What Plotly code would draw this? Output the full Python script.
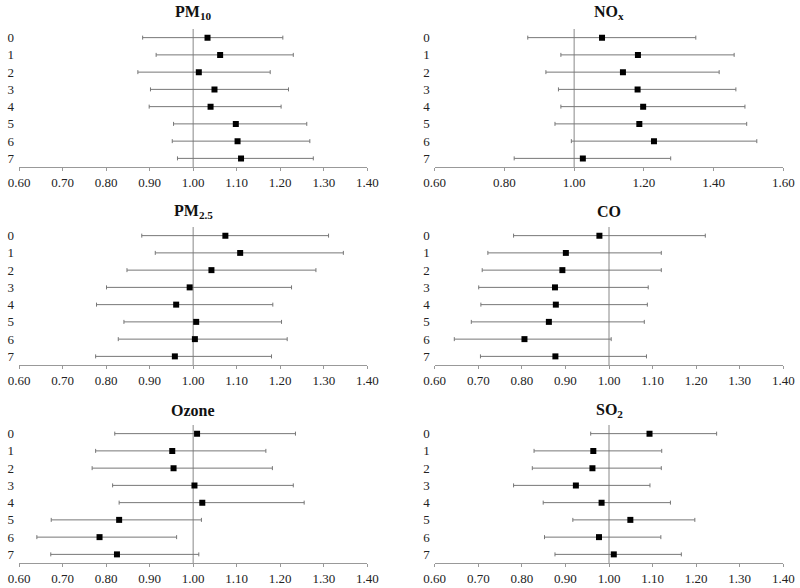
import plotly.graph_objects as go

lags = [0, 1, 2, 3, 4, 5, 6, 7]

pm10_est = [1.033, 1.062, 1.013, 1.049, 1.040, 1.098, 1.102, 1.110]
pm10_lo = [0.884, 0.915, 0.873, 0.902, 0.899, 0.955, 0.952, 0.964]
pm10_hi = [1.206, 1.230, 1.177, 1.219, 1.202, 1.261, 1.268, 1.276]

nox_est = [1.080, 1.183, 1.140, 1.182, 1.198, 1.187, 1.229, 1.025]
nox_lo = [0.867, 0.962, 0.919, 0.955, 0.962, 0.945, 0.992, 0.828]
nox_hi = [1.349, 1.459, 1.416, 1.464, 1.490, 1.495, 1.524, 1.277]

pm25_est = [1.074, 1.108, 1.042, 0.992, 0.961, 1.007, 1.004, 0.958]
pm25_lo = [0.882, 0.913, 0.848, 0.801, 0.778, 0.841, 0.828, 0.776]
pm25_hi = [1.311, 1.345, 1.282, 1.226, 1.183, 1.203, 1.216, 1.180]

co_est = [0.978, 0.901, 0.893, 0.876, 0.878, 0.862, 0.806, 0.877]
co_lo = [0.781, 0.722, 0.709, 0.701, 0.706, 0.684, 0.645, 0.705]
co_hi = [1.221, 1.120, 1.120, 1.090, 1.088, 1.081, 1.005, 1.086]

ozone_est = [1.009, 0.952, 0.955, 1.003, 1.021, 0.830, 0.785, 0.825]
ozone_lo = [0.820, 0.776, 0.768, 0.815, 0.830, 0.674, 0.641, 0.673]
ozone_hi = [1.235, 1.167, 1.182, 1.230, 1.255, 1.019, 0.962, 1.013]

so2_est = [1.093, 0.964, 0.962, 0.924, 0.983, 1.049, 0.977, 1.011]
so2_lo = [0.958, 0.828, 0.824, 0.781, 0.849, 0.917, 0.852, 0.876]
so2_hi = [1.247, 1.121, 1.120, 1.094, 1.141, 1.197, 1.119, 1.166]

titles = ["<b>PM<sub>10</sub></b>", "<b>NO<sub>x</sub></b>", "<b>PM<sub>2.5</sub></b>",
          "<b>CO</b>", "<b>Ozone</b>", "<b>SO<sub>2</sub></b>"]
panels = [
    (pm10_est, pm10_lo, pm10_hi, [0.6, 1.4], 0.1),
    (nox_est, nox_lo, nox_hi, [0.6, 1.6], 0.2),
    (pm25_est, pm25_lo, pm25_hi, [0.6, 1.4], 0.1),
    (co_est, co_lo, co_hi, [0.6, 1.4], 0.1),
    (ozone_est, ozone_lo, ozone_hi, [0.6, 1.4], 0.1),
    (so2_est, so2_lo, so2_hi, [0.6, 1.4], 0.1),
]

W, H = 800, 588
x_doms = [[19 / W, 367.3 / W], [434.7 / W, 783.3 / W]]
y_px = [(29, 167), (227, 365), (425, 563)]
y_doms = [[1 - b / H, 1 - t / H] for t, b in y_px]
title_y = [13, 212, 410]

FONT = "Liberation Serif, Times New Roman, serif"
fig = go.Figure()
layout = dict(
    width=W, height=H, margin=dict(l=0, r=0, t=0, b=0, autoexpand=False),
    paper_bgcolor="white", plot_bgcolor="white", showlegend=False,
    font=dict(family=FONT, size=13, color="#222"),
)
shapes = []
annotations = []

for i, (est, lo, hi, rng, dt) in enumerate(panels):
    r, c = divmod(i, 2)
    n = i + 1
    xa = "x" if n == 1 else f"x{n}"
    ya = "y" if n == 1 else f"y{n}"
    fig.add_trace(go.Scatter(
        x=est, y=lags, mode="markers", xaxis=xa, yaxis=ya,
        marker=dict(symbol="square", size=6, color="black"),
        error_x=dict(type="data", symmetric=False,
                     array=[h - e for h, e in zip(hi, est)],
                     arrayminus=[e - l for e, l in zip(est, lo)],
                     color="#777", thickness=1, width=2),
    ))
    nt = int(round((rng[1] - rng[0]) / dt))
    tv = [round(rng[0] + k * dt, 2) for k in range(nt + 1)]
    layout["xaxis" + ("" if n == 1 else str(n))] = dict(
        domain=x_doms[c], anchor=ya, range=rng, tickvals=tv, automargin=False,
        ticktext=[f"{v:.2f}" for v in tv], showgrid=False, zeroline=False,
        showline=True, linecolor="#999", linewidth=1, ticks="outside",
        ticklen=3, tickcolor="#999", tickfont=dict(family=FONT, size=13, color="#222"),
    )
    layout["yaxis" + ("" if n == 1 else str(n))] = dict(
        domain=y_doms[r], anchor=xa, range=[7.5, -0.5], tickvals=lags, automargin=False,
        showgrid=False, zeroline=False, showline=False, ticks="",
        ticklabelstandoff=4, tickfont=dict(family=FONT, size=13, color="#222"),
    )
    shapes.append(dict(type="line", xref=xa, yref=ya + " domain", x0=1, x1=1, y0=0, y1=1,
                       line=dict(color="#888", width=1), layer="below"))
    annotations.append(dict(text=titles[i], xref="paper", yref="paper",
                            x=sum(x_doms[c]) / 2, y=1 - title_y[r] / H,
                            xanchor="center", yanchor="middle", showarrow=False,
                            font=dict(family=FONT, size=16, color="#111")))

layout["shapes"] = shapes
layout["annotations"] = annotations
fig.update_layout(**layout)
fig.write_html("out.html", config={"displayModeBar": False},
               post_script="document.body.style.margin='0';")
